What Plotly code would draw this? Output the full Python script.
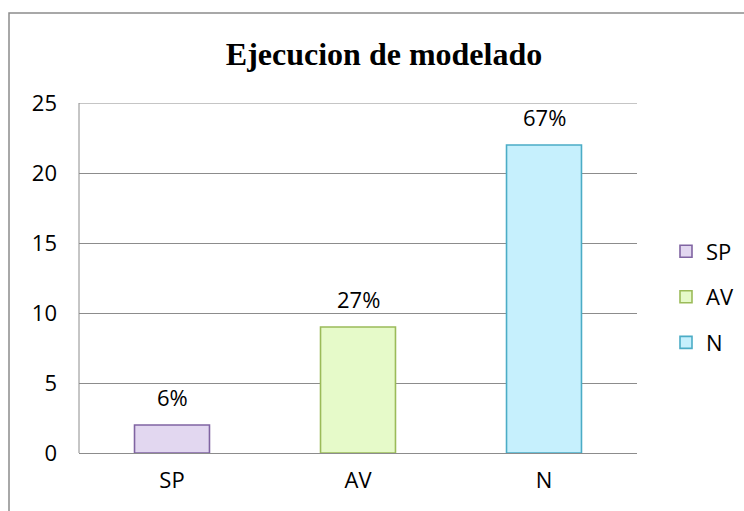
import plotly.graph_objects as go

categories = ["SP", "AV", "N"]
values = [2, 9, 22]
percent_labels = ["6%", "27%", "67%"]
fill_colors = ["#E2D7F0", "#E6FAC9", "#C6F0FD"]
line_colors = ["#8064A2", "#9BBB59", "#4BACC6"]
y_ticks = [0, 5, 10, 15, 20, 25]

TICK_FONT = dict(family="Open Sans, Noto Sans, sans-serif", size=22, color="#000000")
GRID = "#8C8C8C"

fig = go.Figure()
for i, cat in enumerate(categories):
    fig.add_trace(go.Bar(
        x=[cat], y=[values[i]], name=cat,
        legendgroup=cat,
        marker=dict(color=fill_colors[i], line=dict(color=line_colors[i], width=1.6)),
        hoverinfo="x+y",
    ))
    fig.add_annotation(
        x=cat, y=values[i], text=percent_labels[i], showarrow=False,
        yanchor="bottom", yshift=11, font=TICK_FONT,
    )

fig.update_layout(
    width=744, height=511,
    margin=dict(l=79, r=107, t=103, b=58, autoexpand=False),
    paper_bgcolor="white", plot_bgcolor="white",
    barmode="overlay", bargap=0.597,
    title=dict(
        text="<b>Ejecucion de modelado</b>",
        font=dict(family="Liberation Serif, Times New Roman, serif", size=32, color="#000000"),
        x=384 / 744, xanchor="center", xref="container",
        y=1 - 54 / 511, yanchor="middle", yref="container",
    ),
    legend=dict(
        x=666 / 744, xanchor="left", xref="container",
        y=0.446, yanchor="middle",
        font=TICK_FONT, tracegroupgap=14, bgcolor="rgba(0,0,0,0)",
    ),
    xaxis=dict(
        categoryorder="array", categoryarray=categories,
        showgrid=False, showline=False, zeroline=False,
        tickfont=TICK_FONT, ticks="", ticklabelstandoff=12,
    ),
    yaxis=dict(
        range=[0, 25], tickvals=y_ticks, showgrid=True,
        gridcolor=GRID, gridwidth=1,
        zeroline=True, zerolinecolor=GRID, zerolinewidth=1,
        showline=False,
        tickfont=TICK_FONT, ticks="", ticklabelstandoff=21,
    ),
    shapes=[
        dict(
            type="rect", xref="paper", yref="paper",
            x0=(9 - 79) / 558, x1=2.0, y0=-1.0, y1=(453 - 13) / 350,
            line=dict(color=GRID, width=1.5), fillcolor="rgba(0,0,0,0)", layer="below",
        ),
        dict(type="line", xref="paper", yref="paper", x0=0, x1=0, y0=0, y1=1,
             line=dict(color=GRID, width=1), layer="below"),
        dict(type="line", xref="paper", yref="y", x0=0, x1=1, y0=25, y1=25,
             line=dict(color=GRID, width=1), layer="below"),
    ],
)

fig.write_html("out.html", config={"displayModeBar": False},
               post_script="document.body.style.margin='0';")
